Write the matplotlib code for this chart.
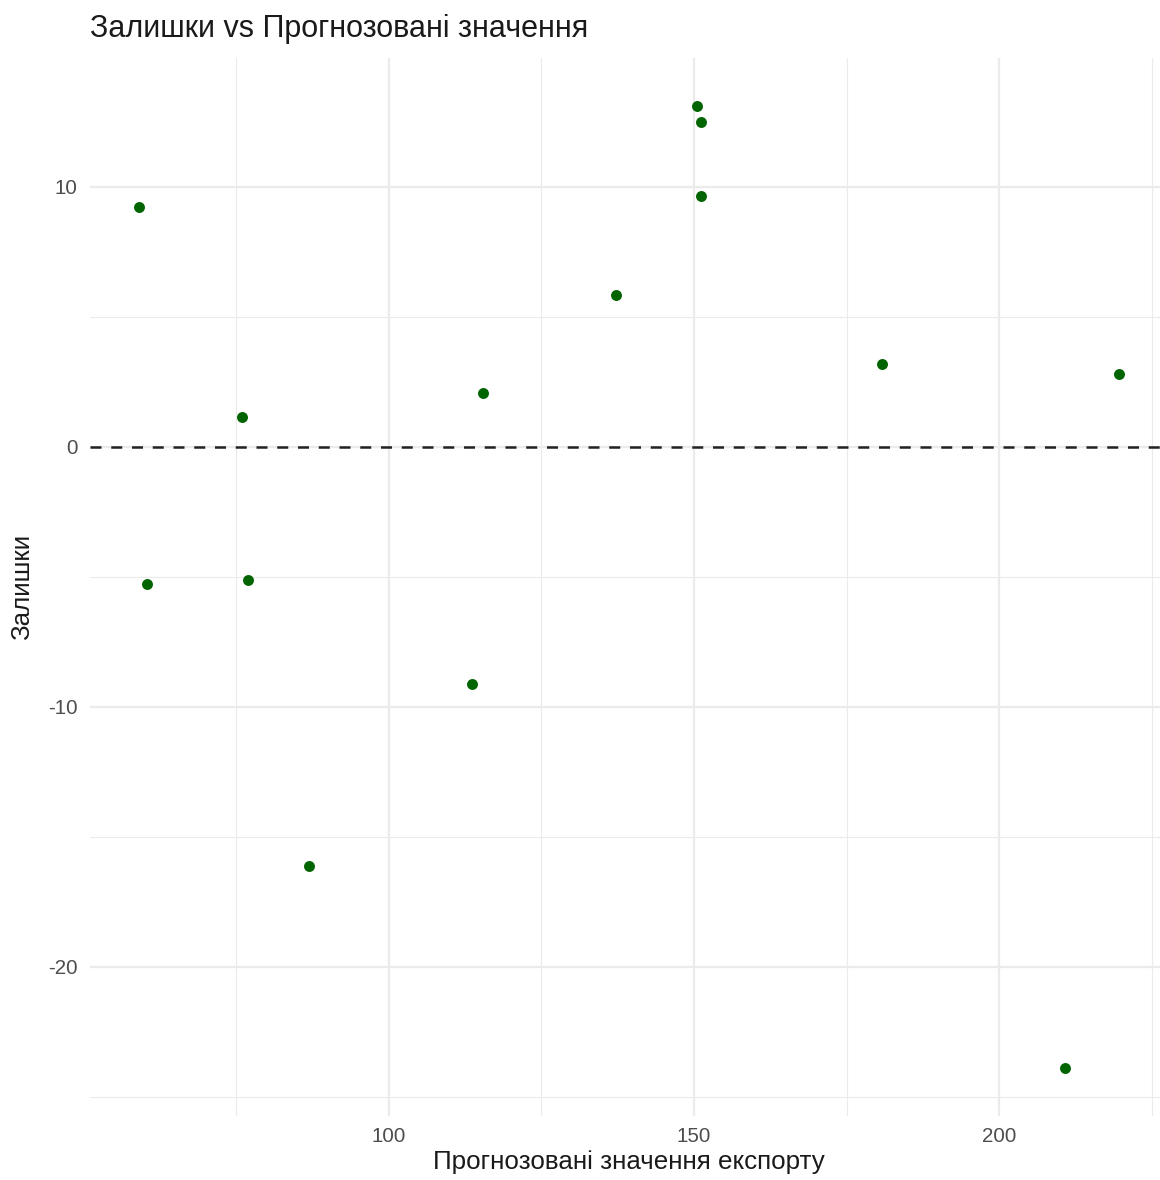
import matplotlib
matplotlib.use("Agg")
import matplotlib.pyplot as plt
import numpy as np

plt.rcParams['font.family'] = ['Liberation Sans', 'DejaVu Sans']
plt.rcParams['axes.unicode_minus'] = False

fitted = [59.02, 60.28, 75.90, 76.84, 86.93, 113.61, 115.46, 137.16,
          150.54, 151.10, 151.20, 180.82, 210.82, 219.67]
residuals = [9.23, -5.28, 1.13, -5.12, -16.13, -9.13, 2.05, 5.82,
             13.09, 12.48, 9.65, 3.17, -23.88, 2.78]
x_major = [100, 150, 200]
x_minor = [75, 125, 175, 225]
y_major = [-20, -10, 0, 10]
y_minor = [-25, -15, -5, 5]

title = "Залишки vs Прогнозовані значення"
xlabel = "Прогнозовані значення експорту"
ylabel = "Залишки"

W, H = 1160, 1180
fig = plt.figure(figsize=(W / 100, H / 100), dpi=100)
left, right, top, bottom = 90, 1168, 58.3, 1115.7
ax = fig.add_axes([left / W, 1 - bottom / H, (right - left) / W, (bottom - top) / H])

xs = np.array(fitted); ys = np.array(residuals)
xr = xs.max() - xs.min(); yr = ys.max() - ys.min()
ax.set_xlim(xs.min() - 0.05 * xr, xs.max() + 0.05 * xr)
ax.set_ylim(ys.min() - 0.05 * yr, ys.max() + 0.05 * yr)

for s in ax.spines.values():
    s.set_visible(False)
ax.set_xticks(x_major)
ax.set_xticks(x_minor, minor=True)
ax.set_yticks(y_major)
ax.set_yticks(y_minor, minor=True)
ax.grid(True, which='major', color='#EBEBEB', linewidth=1.6)
ax.grid(True, which='minor', color='#EBEBEB', linewidth=0.8)
ax.set_axisbelow(True)
ax.tick_params(which='both', length=0)
ax.tick_params(axis='both', labelsize=14.8, labelcolor='#4D4D4D')
ax.tick_params(axis='x', pad=8)
ax.tick_params(axis='y', pad=9)

ax.axhline(0, color='#222222', linewidth=1.8, linestyle=(0, (4.4, 3.9)), zorder=2)
ax.scatter(fitted, residuals, s=62, color='#006400', linewidths=0, zorder=3)

ax.set_xlabel(xlabel, fontsize=18.7, color='#1A1A1A', labelpad=3)
ax.set_ylabel(ylabel, fontsize=18.7, color='#1A1A1A', labelpad=10)
fig.text(left / W, 1 - 14 / H, title, fontsize=22, color='#1A1A1A', ha='left', va='top')

fig.savefig("out.png", dpi=100, facecolor='white')
